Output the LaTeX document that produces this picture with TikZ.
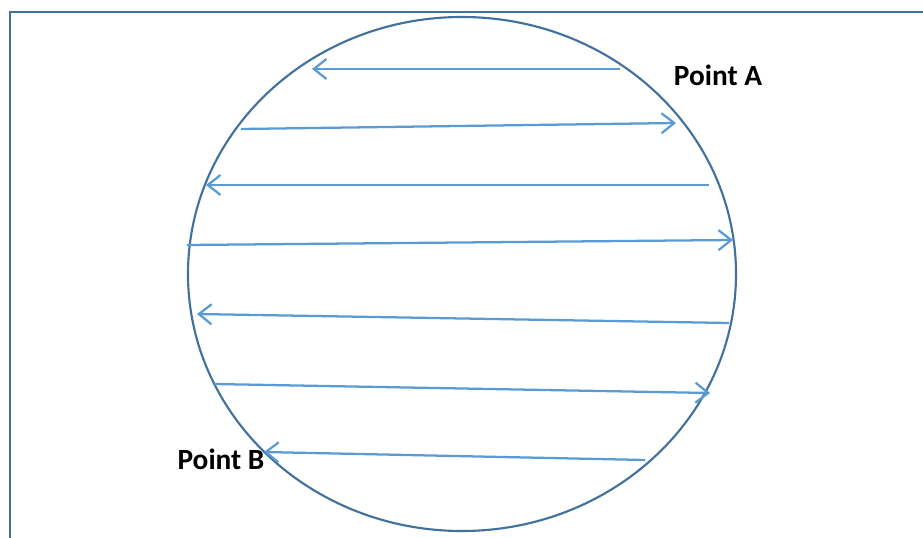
\documentclass[tikz,border=0pt]{standalone}
\usepackage{fontspec}
\setmainfont{Carlito}
\usetikzlibrary{arrows.meta,shapes.geometric}
\definecolor{circ}{HTML}{41719C}
\definecolor{arr}{HTML}{5B9BD5}
\begin{document}
\begin{tikzpicture}[x=0.75pt,y=-0.75pt,
  frame/.style={draw=circ,line width=1.6pt},
  ring/.style={draw=circ,line width=1.6pt,ellipse,inner sep=0pt,minimum width=411pt,minimum height=385.5pt},
  sweep/.style={draw=arr,line width=1.7pt,-{Straight Barb[length=9.5pt,width=15pt,line width=1.7pt]}},
  lbl/.style={font=\bfseries\fontsize{22}{26}\selectfont,text=black,inner sep=0pt}]
\useasboundingbox (0,0) rectangle (923,538);
\draw[frame] (10,545) -- (10,12) -- (930,12);
\node[ring] (c) at (462,274) {};
\coordinate (a1) at (620,69);  \coordinate (b1) at (312,69);
\coordinate (a2) at (241,129); \coordinate (b2) at (676,123);
\coordinate (a3) at (709,185); \coordinate (b3) at (206,185);
\coordinate (a4) at (187,245); \coordinate (b4) at (733,240);
\coordinate (a5) at (729,323); \coordinate (b5) at (197,314);
\coordinate (a6) at (214,384); \coordinate (b6) at (710,393);
\coordinate (a7) at (645,460); \coordinate (b7) at (264,452);
\foreach \i in {1,...,7} {\draw[sweep] (a\i) -- (b\i);}
\node[lbl] (pa) at (718,75) {Point A};
\node[lbl] (pb) at (221,459) {Point B};
\end{tikzpicture}
\end{document}
